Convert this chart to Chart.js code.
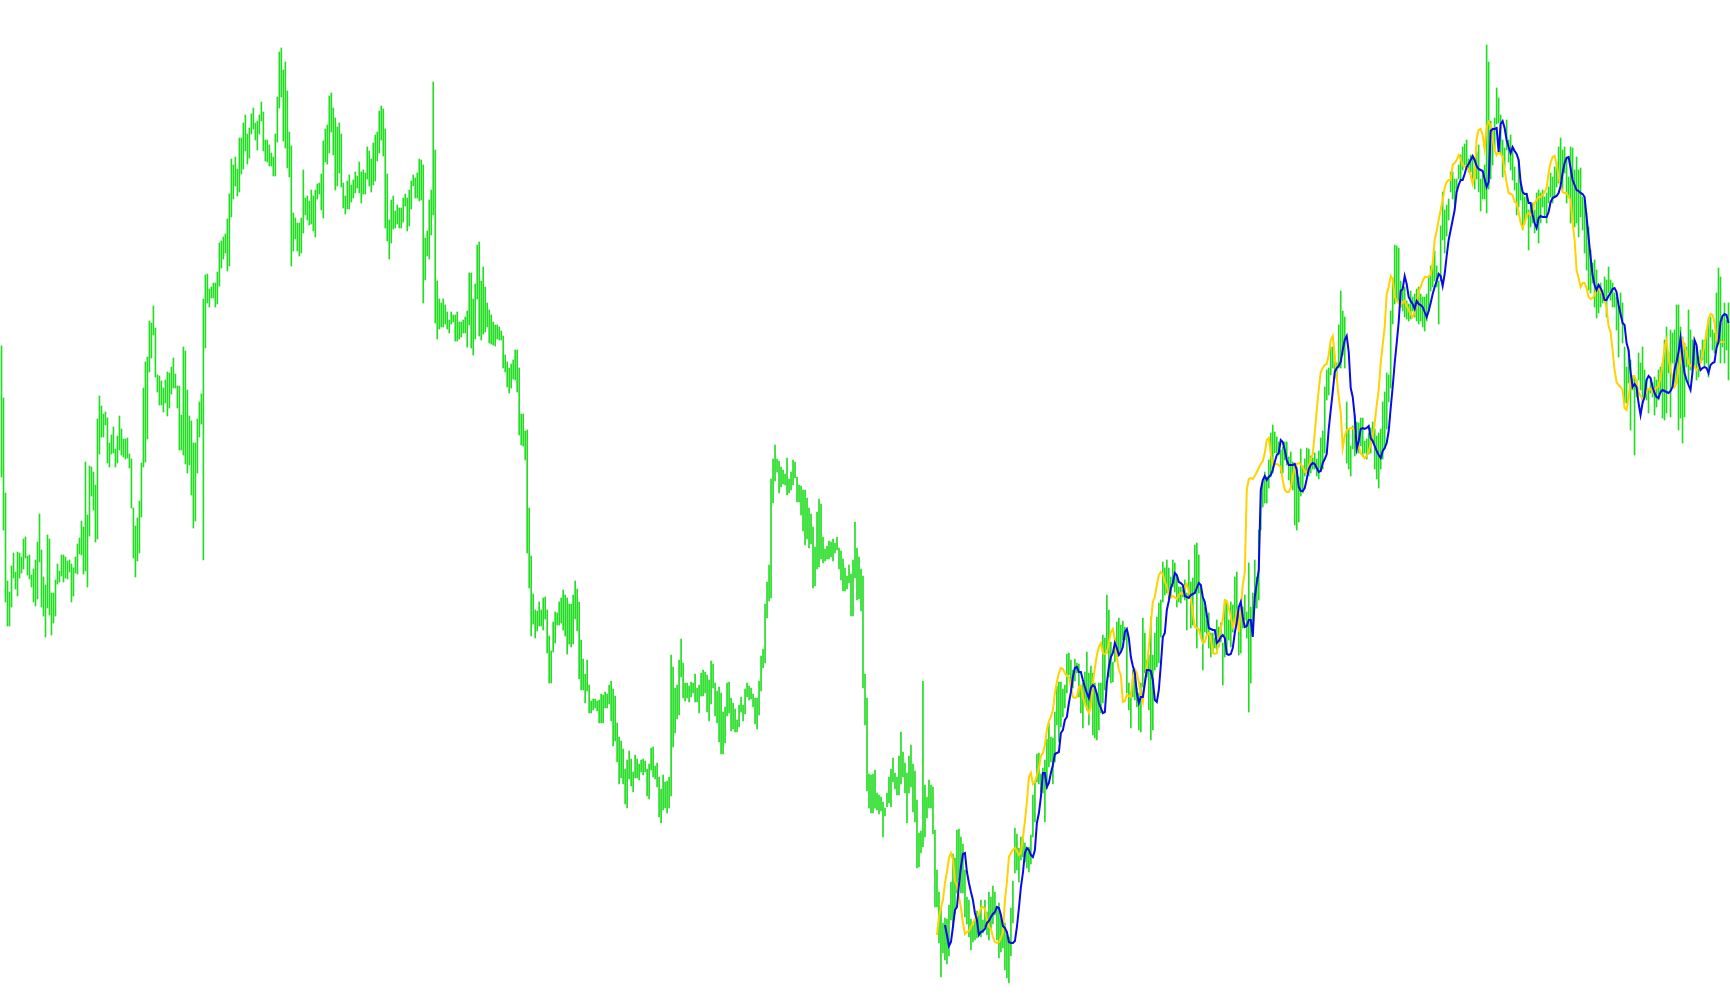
<!DOCTYPE html>
<html>
<head>
<meta charset="utf-8">
<script src="https://cdn.jsdelivr.net/npm/chart.js@4.4.1/dist/chart.umd.min.js"></script>
<style>
html,body{margin:0;padding:0;background:#ffffff;overflow:hidden;}
canvas{display:block;}
</style>
</head>
<body>
<canvas id="c" width="1730" height="1005"></canvas>
<script>
// Price scale is read downward (the value axis is reversed): smaller value = higher on chart.
// Bar highs (upper end of each bar)
const highs = [
346,398,493,581,592,566,553,572,552,553,557,539,537,556,555,575,569,560,542,514,
550,577,585,535,539,593,593,580,564,571,555,555,557,561,560,564,568,557,544,538,
521,527,462,515,466,467,472,485,419,396,406,414,412,418,443,435,427,449,436,416,
429,439,439,438,454,459,508,526,518,501,463,388,362,357,321,323,306,328,375,376,
381,388,380,372,373,367,358,374,386,386,415,347,351,390,416,421,443,443,419,402,
394,299,275,274,289,287,283,283,272,243,241,237,234,219,194,159,165,157,169,138,
138,123,115,134,128,114,108,123,121,115,102,112,140,140,145,153,157,134,97,52,
48,70,62,91,132,146,213,218,223,223,218,170,198,196,201,190,196,190,184,183,
174,141,129,125,96,93,108,118,127,123,134,183,196,181,175,185,180,172,176,162,
172,170,173,147,151,159,143,135,132,111,106,109,129,174,220,200,196,211,205,208,
208,198,194,198,190,181,175,178,173,159,
160,165,238,231,200,190,82,150,281,299,303,299,305,312,320,312,315,315,312,322,
322,320,317,311,273,273,299,284,245,242,281,267,287,303,310,315,322,325,325,327,
331,336,355,362,368,364,360,350,350,368,414,414,431,430,508,556,594,610,611,602,
610,598,597,610,636,651,622,612,613,602,598,590,595,598,604,604,595,581,589,602,
640,659,674,660,685,701,699,699,701,700,694,695,692,694,685,681,689,696,723,737,
741,749,769,760,751,759,772,755,759,764,
760,759,761,769,764,748,747,766,763,777,789,775,782,781,777,655,667,688,685,660,
639,663,683,683,686,682,683,674,688,685,673,670,672,675,680,661,664,683,691,687,
693,712,707,683,682,698,703,709,720,705,697,705,689,683,686,688,694,698,698,681,
656,649,604,582,565,479,459,445,459,461,467,470,474,458,479,472,460,462,477,485,
486,490,490,498,508,514,527,547,512,499,504,537,549,546,541,542,539,543,537,548,
551,559,568,576,565,574,560,522,548,557,569,576,674,698,774,
775,774,770,793,795,797,802,808,793,777,769,758,773,777,756,732,752,763,773,756,
745,764,771,800,833,831,681,785,797,780,785,787,830,870,892,908,923,918,919,905,
882,854,858,830,829,837,844,870,897,900,919,925,920,911,914,900,920,900,912,892,
897,886,892,907,903,915,920,923,935,937,908,881,828,834,848,837,839,843,848,847,
835,795,781,754,753,774,768,760,739,723,737,738,712,686,682,682,689,685,654,653,
660,670,659,663,664,
685,683,672,652,673,666,673,683,693,683,683,635,638,595,610,642,662,638,622,618,
625,621,627,632,683,692,670,677,688,693,683,618,633,660,655,617,655,633,617,603,
600,562,568,560,568,577,560,563,577,587,587,590,580,593,560,582,578,545,543,555,
588,597,607,620,613,633,633,638,620,627,623,643,600,603,620,602,605,577,572,615,
600,607,595,612,563,607,593,560,577,530,488,480,472,477,460,433,425,432,437,442,
450,447,442,442,457,452,462,470,467,477,
449,466,459,448,449,456,458,453,459,451,438,431,387,370,368,347,347,362,363,325,
291,311,317,402,429,446,426,415,422,423,418,418,441,439,433,428,422,429,436,433,
429,402,392,373,375,311,278,245,246,248,281,287,287,301,304,291,297,294,289,287,
294,297,297,294,276,266,263,251,266,281,226,192,210,205,199,172,172,179,179,165,
155,147,144,140,159,155,157,169,152,145,179,175,165,45,62,121,128,118,88,98,
115,140,148,120,140,135,150,167,183,160,183,193,197,193,210,207,203,210,193,190,
193,190,197,193,187,173,177,167,163,147,138,150,147,157,177,147,148,170,157,170,
168,197,200,213,227,250,263,260,270,287,283,290,277,280,267,280,283,293,297,307,
293,303,347,367,350,360,377,377,380,353,363,347,370,380,390,380,383,377,380,370,
367,363,340,327,353,330,333,330,305,305,327,337,343,347,310,330,340,347,347,357,
350,340,340,330,320,317,330,333,293,268,277,317,303,320,303
];
// Bar lows (lower end of each bar)
const lows = [
477,530,602,626,626,607,578,589,596,578,573,569,558,575,579,587,602,606,599,562,
607,616,637,608,615,635,623,616,584,582,576,582,578,579,572,602,596,573,574,554,
555,574,571,587,536,496,510,542,539,454,437,437,425,463,467,454,453,467,463,450,
455,457,459,458,468,508,558,577,561,553,517,467,462,439,372,358,335,377,392,405,
405,412,403,416,408,394,388,388,408,450,450,455,464,473,465,495,528,521,473,437,
424,560,348,303,307,298,298,307,304,286,268,259,253,271,266,217,199,186,196,192,
174,169,151,164,158,134,129,140,150,134,121,151,161,162,166,166,176,176,142,108,
97,141,148,168,177,266,251,239,251,256,253,233,215,220,225,224,231,237,199,194,
210,218,162,164,153,132,155,190,186,173,187,208,214,209,209,202,198,193,188,193,
203,194,194,179,186,192,185,181,161,153,140,156,228,241,259,243,229,228,224,228,
228,222,206,231,226,209,186,198,198,201,
200,303,280,256,259,235,215,323,339,329,327,327,324,329,333,324,322,341,341,339,
337,333,333,347,325,348,355,339,299,336,340,334,332,327,343,344,345,346,339,340,
340,368,372,387,393,388,379,380,392,435,445,446,460,553,588,636,624,638,631,626,
626,630,619,653,683,683,652,643,625,625,623,630,636,654,644,647,644,619,631,679,
690,690,703,691,713,713,710,708,711,723,723,723,708,708,704,721,746,741,762,784,
778,784,804,808,779,786,792,778,778,780,
772,775,772,796,799,770,777,779,787,817,823,810,808,813,808,796,747,733,719,715,
677,698,701,698,702,697,693,702,702,713,696,696,693,712,721,704,688,716,723,742,
754,754,743,716,713,731,729,732,732,727,712,721,714,697,700,699,707,724,729,715,
691,668,663,618,601,598,503,481,472,493,487,484,485,495,493,490,485,478,502,502,
515,531,545,539,548,544,588,586,569,567,559,563,561,559,559,557,561,553,550,569,
580,591,591,589,583,616,616,578,600,599,611,688,725,791,808,
813,813,808,810,814,811,837,816,807,803,807,782,789,795,795,784,777,793,823,793,
787,812,822,868,867,853,847,837,818,808,808,834,907,907,943,977,953,960,964,956,
920,926,914,893,880,893,893,917,924,937,950,942,940,938,932,937,933,927,935,940,
929,924,915,940,958,952,948,970,978,983,956,923,873,870,882,860,857,862,868,872,
864,837,822,782,784,792,793,822,789,767,762,784,762,725,742,727,717,708,693,675,
683,688,681,673,697,
713,728,703,710,725,705,735,738,740,730,713,703,690,650,677,683,682,662,657,655,
650,640,640,693,710,728,697,700,707,730,732,687,673,677,710,740,730,670,667,663,
637,602,595,593,598,598,587,592,607,602,603,597,600,630,597,628,625,593,648,593,
638,670,632,635,648,657,653,648,650,647,642,685,657,653,640,647,632,622,620,655,
653,628,620,638,712,683,632,608,608,600,530,507,503,503,488,477,473,453,453,455,
473,473,460,465,480,487,490,525,530,522,
496,493,476,473,476,473,469,469,476,479,471,469,453,400,395,375,368,378,378,368,
368,355,368,463,469,476,449,456,453,453,446,456,453,459,454,453,443,469,479,488,
469,459,449,429,402,388,324,304,301,301,307,311,317,319,321,319,311,317,321,324,
321,327,331,321,311,291,287,281,287,324,281,240,253,236,220,192,199,205,189,179,
179,170,165,165,172,172,179,189,179,192,211,199,199,213,189,179,165,149,124,123,
153,177,167,150,162,170,180,190,215,207,200,230,223,217,250,227,223,233,223,243,
223,207,217,223,203,197,203,197,187,183,180,190,173,203,197,223,220,227,223,237,
217,230,253,270,290,293,283,307,318,313,307,303,300,317,293,300,307,307,330,357,
313,343,403,403,383,430,390,455,397,380,390,403,397,400,413,393,397,415,407,400,
393,418,420,413,373,417,363,387,383,430,418,443,417,367,383,370,370,367,380,377,
363,360,367,363,377,337,350,353,347,343,363,347,363,350,380
];

// Yellow average, first value at bar 468
const yellowFrom = 468;
const yellowLine = [
935,917,908,900,883,872,858,853,860,881,885,897,908,923,934,932,931,927,923,919,
916,914,908,907,909,919,927,929,937,942,943,942,938,932,900,882,857,853,850,848,
851,855,853,838,821,802,777,773,784,782,775,768,756,753,745,730,721,717,710,693,
682,673,668,669,673,676,677,687,697,698,697,687,
686,697,704,708,713,707,683,668,655,647,643,653,654,653,643,632,629,640,657,670,
675,702,701,695,696,697,677,669,673,682,695,702,680,668,647,623,602,597,585,575,
572,574,582,586,595,597,596,597,599,595,593,594,587,584,592,599,613,627,628,629,
637,643,642,635,633,638,653,654,653,640,628,620,600,601,608,617,627,622,613,632,
607,585,573,490,479,478,479,476,472,468,464,461,453,440,438,453,465,464,464,465,
467,480,490,492,492,488,477,467,464,463,
464,467,472,472,466,459,454,433,410,390,372,368,365,364,355,340,336,355,378,397,
412,448,436,430,429,428,428,431,438,446,453,456,458,456,451,444,436,423,405,390,
363,345,327,294,287,276,279,297,301,303,305,302,301,306,310,314,317,312,304,291,
287,281,277,277,277,274,264,240,231,220,210,200,188,182,180,180,165,163,160,155,
159,165,166,169,169,175,184,175,139,130,129,135,149,127,122,125,139,150,155,152,
154,157,170,183,193,194,195,202,203,212,223,228,223,215,213,215,212,203,200,197,
197,195,192,188,173,163,157,156,164,177,185,192,193,193,197,200,222,240,270,278,
287,283,283,288,297,299,298,295,290,289,292,294,299,308,326,332,350,370,382,385,
387,390,408,410,398,380,376,376,382,392,396,399,397,391,389,389,392,389,388,386,
377,365,347,340,358,370,377,387,383,370,360,340,345,353,363,366,364,367,370,367,
363,355,345,333,319,314,315,322,340,342,342,342,342
];

// Blue average, first value at bar 472
const blueFrom = 472;
const blueLine = [
925,935,946,942,927,910,907,885,867,854,853,872,883,892,900,913,920,935,932,931,
929,923,921,917,914,912,907,908,915,926,928,932,942,943,943,941,927,908,887,873,
853,848,850,855,857,850,823,813,797,773,773,787,783,773,765,754,753,752,733,730,
720,717,703,692,677,668,667,672,
672,680,687,693,698,688,685,687,694,703,708,713,712,683,667,657,653,643,648,655,
652,647,632,629,638,657,666,673,693,703,697,697,683,670,670,671,680,700,702,690,
665,637,633,610,601,588,583,573,575,582,583,585,596,597,598,595,594,593,588,583,
585,597,602,615,628,629,630,630,643,641,637,635,638,654,655,654,648,633,622,607,
602,617,627,626,620,620,637,597,583,570,490,480,476,480,477,475,470,462,455,453,
440,442,450,460,465,465,465,464,470,487,
491,491,488,479,469,465,463,464,468,472,471,463,459,454,429,410,392,372,368,366,
362,350,340,336,352,388,397,416,449,441,429,428,429,428,426,438,441,446,451,455,
458,451,448,443,431,408,387,363,343,322,291,289,276,284,297,301,304,309,301,304,
305,307,312,317,311,303,294,287,281,274,276,286,274,256,240,230,220,210,192,185,
180,180,174,167,164,160,156,160,166,169,170,171,179,187,182,131,129,129,128,152,
124,121,128,140,147,153,147,151,154,160,182,192,194,194,203,203,215,223,228,218,
216,217,217,217,212,202,198,197,196,193,186,173,163,158,157,168,180,185,190,191,
193,194,197,217,237,257,275,285,290,285,288,293,300,300,296,293,289,288,292,305,
314,323,325,343,350,372,387,384,387,403,415,403,397,380,376,378,387,393,397,398,
392,390,391,392,393,391,387,370,362,352,338,358,373,380,385,390,372,340,345,363,
370,368,367,368,373,365,363,362,348,342,322,316,314,315,323
];

const N = highs.length;
const barIndex = highs.map((_, i) => i);
const barData = highs.map((h, i) => [h, lows[i]]);
const lineOn = (arr, from) => barIndex.map(i => (i >= from && i - from < arr.length) ? arr[i - from] : null);

const ctx = document.getElementById('c').getContext('2d');
new Chart(ctx, {
  type: 'bar',
  data: {
    labels: barIndex,
    datasets: [
      {
        type: 'line',
        data: lineOn(blueLine, blueFrom),
        borderColor: '#0A0AE8',
        borderWidth: 2,
        pointRadius: 0,
        tension: 0,
        fill: false,
        spanGaps: false,
        order: 0
      },
      {
        type: 'line',
        data: lineOn(yellowLine, yellowFrom),
        borderColor: '#FFD200',
        borderWidth: 2,
        pointRadius: 0,
        tension: 0,
        fill: false,
        spanGaps: false,
        order: 1
      },
      {
        type: 'bar',
        data: barData,
        backgroundColor: '#22DD22',
        borderWidth: 0,
        barThickness: 1,
        order: 2
      }
    ]
  },
  options: {
    responsive: false,
    maintainAspectRatio: false,
    animation: false,
    devicePixelRatio: 1,
    events: [],
    layout: { padding: 0 },
    plugins: { legend: { display: false }, tooltip: { enabled: false } },
    scales: {
      x: { type: 'linear', min: -0.75, max: N - 0.25, display: false, offset: false, grid: { display: false } },
      y: { min: 0, max: 1005, reverse: true, display: false, grid: { display: false } }
    }
  }
});
</script>
</body>
</html>
